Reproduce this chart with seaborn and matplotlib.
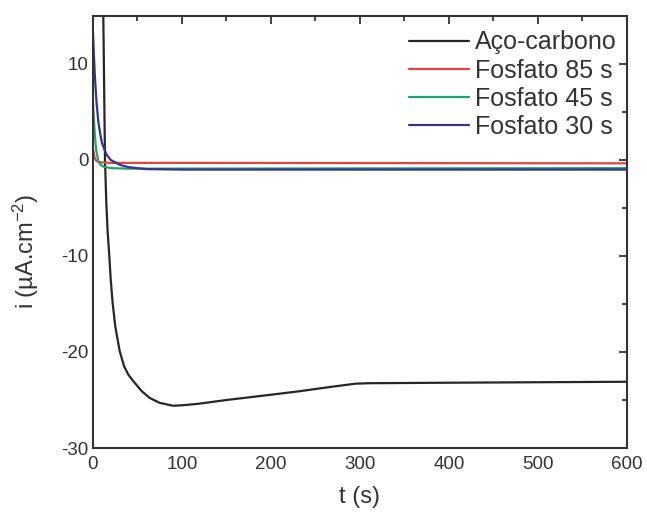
import numpy as np
import pandas as pd
import matplotlib
matplotlib.use("Agg")
import matplotlib.pyplot as plt
from matplotlib.ticker import MultipleLocator
import seaborn as sns

sns.set_theme(style="white")
plt.rcParams['font.family'] = ['Liberation Sans', 'DejaVu Sans']
plt.rcParams['mathtext.fontset'] = 'custom'
plt.rcParams['mathtext.rm'] = 'Liberation Sans'
plt.rcParams['mathtext.it'] = 'Liberation Sans'
plt.rcParams['axes.unicode_minus'] = False

# Chronoamperometry curves: current density (µA.cm-2) versus time (s)
t_aco = [11.0, 11.5, 12.5, 13.5, 15, 16.5, 18, 20, 22, 25, 30, 35, 40, 45, 55, 64, 75, 90,
         100, 118, 150, 200, 231, 270, 295, 310, 400, 500, 600]
i_aco = [22, 16, 8, 0, -4.5, -7.5, -9.5, -12.5, -14.8, -17.3, -19.9, -21.5, -22.4, -23.0,
         -24.1, -24.8, -25.3, -25.6, -25.55, -25.4, -25.0, -24.45, -24.1, -23.6, -23.3,
         -23.25, -23.2, -23.15, -23.1]

t_85 = [0, 1, 2, 3, 4, 6, 10, 20, 40, 100, 600]
i_85 = [1.2, 0.6, 0.2, 0.0, -0.1, -0.2, -0.25, -0.3, -0.3, -0.3, -0.35]

t_45 = [0, 1, 2, 3, 4, 6, 8, 12, 20, 40, 100, 600]
i_45 = [6.0, 4.2, 2.8, 1.6, 0.8, -0.1, -0.45, -0.7, -0.85, -0.9, -0.9, -0.85]

t_30 = [0, 1, 2, 3, 4, 6, 8, 10, 15, 20, 30, 40, 60, 100, 600]
i_30 = [13.3, 11.0, 9.0, 7.4, 6.0, 4.0, 2.8, 1.8, 0.6, 0.0, -0.5, -0.75, -0.95, -1.0, -1.0]

labels = ["Aço-carbono", "Fosfato 85 s", "Fosfato 45 s", "Fosfato 30 s"]
colors = ["#262626", "#e8413c", "#1fa36e", "#33348e"]

frames = []
for lab, tt, ii in zip(labels, [t_aco, t_85, t_45, t_30], [i_aco, i_85, i_45, i_30]):
    frames.append(pd.DataFrame({"t": tt, "i": ii, "amostra": lab}))
df = pd.concat(frames, ignore_index=True)

fig = plt.figure(figsize=(6.47, 5.14), dpi=100)
ax = fig.add_axes([0.1437, 0.1284, 0.8253, 0.8405])

sns.lineplot(data=df, x="t", y="i", hue="amostra", hue_order=labels,
             palette=dict(zip(labels, colors)), sort=False, linewidth=1.6,
             estimator=None, ax=ax)

ax.set_xlim(0, 600)
ax.set_ylim(-30, 15)
ax.xaxis.set_major_locator(MultipleLocator(100))
ax.xaxis.set_minor_locator(MultipleLocator(50))
ax.yaxis.set_major_locator(MultipleLocator(10))
ax.yaxis.set_minor_locator(MultipleLocator(5))
ax.tick_params(which='both', direction='in', top=True, right=True,
               colors='#333333', labelcolor='#333333', width=1.3)
ax.tick_params(which='major', length=6, labelsize=13.5)
ax.tick_params(axis='x', which='major', pad=6)
ax.tick_params(axis='y', which='major', pad=3)
ax.tick_params(which='minor', length=3.5)
for s in ax.spines.values():
    s.set_color('#333333')
    s.set_linewidth(1.5)

ax.set_xlabel("t (s)", fontsize=17, color='#333333', labelpad=9)
ax.set_ylabel("i (µA.cm$^{-2}$)", fontsize=17, color='#333333')
ax.yaxis.set_label_coords(-0.097, 0.455)

leg = ax.legend(loc='upper right', frameon=False, fontsize=18, handlelength=2.4,
                handletextpad=0.25, labelspacing=0.17, borderaxespad=0.0,
                bbox_to_anchor=(1.0, 0.99))
for txt in leg.get_texts():
    txt.set_color('#333333')
for line in leg.get_lines():
    line.set_linewidth(1.6)

fig.savefig("out.png", dpi=100)
